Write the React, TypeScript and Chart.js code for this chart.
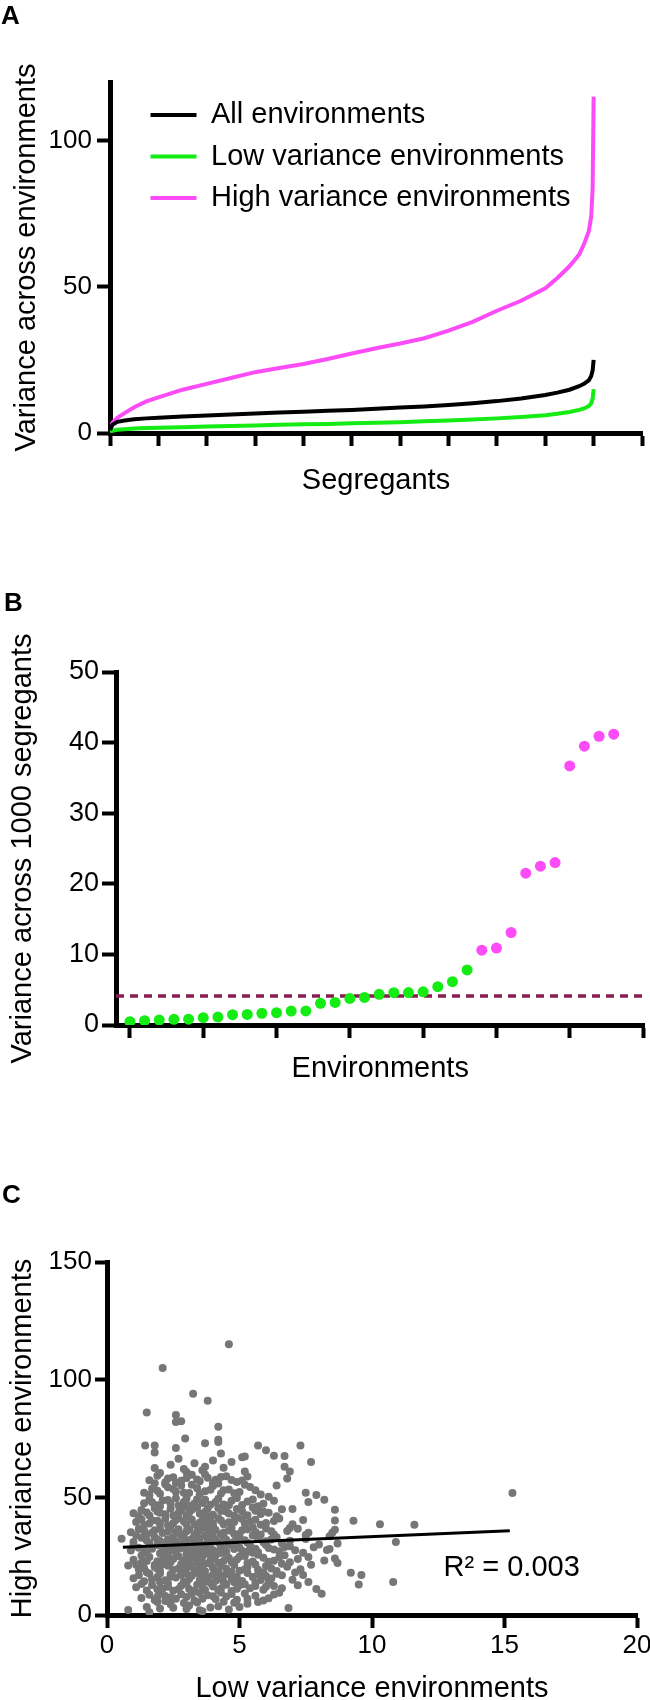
import React, { useEffect, useRef } from 'react';
import { Chart, registerables } from 'chart.js';

Chart.register(...registerables);

const FONT = '"Liberation Sans", Arial, Helvetica, sans-serif';
Chart.defaults.font.family = FONT;
Chart.defaults.color = '#000';

const GREEN = '#14ec14';
const PINK = '#fb4cf7';
const GREY = '#767676';
const MAROON = '#8a1d50';

// ---------- Panel A: variance per segregant (sorted) ----------
const segregantRank = [0, 5, 15, 30, 50, 75, 100, 150, 200, 250, 300, 350, 400, 450, 500, 550, 600, 650, 700, 750, 800, 850, 900, 925, 950, 970, 980, 990, 995, 998, 1000];
const allEnvVariance = [1.0, 2.8, 3.8, 4.3, 4.7, 5.0, 5.2, 5.6, 6.0, 6.3, 6.7, 7.0, 7.3, 7.6, 7.9, 8.3, 8.7, 9.1, 9.6, 10.2, 10.9, 11.8, 13.0, 13.8, 14.8, 16.0, 16.8, 18.0, 19.5, 21.5, 25.0];
const lowEnvVariance = [0.3, 0.8, 1.1, 1.3, 1.5, 1.7, 1.8, 2.0, 2.2, 2.4, 2.6, 2.8, 3.0, 3.1, 3.3, 3.5, 3.7, 4.0, 4.3, 4.6, 5.0, 5.5, 6.1, 6.6, 7.2, 7.9, 8.4, 9.2, 10.2, 11.8, 15.0];
const highEnvVariance = [1.5, 3.5, 5.2, 6.8, 8.8, 10.8, 12.2, 14.8, 16.8, 18.8, 20.8, 22.2, 23.6, 25.3, 27.2, 29.0, 30.6, 32.4, 35.0, 38.0, 41.8, 45.2, 49.5, 53.0, 57.0, 61.0, 64.5, 69.0, 74.0, 84.0, 115.0];
const segregantTicks = [0, 100, 200, 300, 400, 500, 600, 700, 800, 900, 1000, 1100];
const panelAYTicks = [0, 50, 100];

// ---------- Panel B: variance across segregants per environment ----------
const lowVarianceEnvs = [0.47, 0.61, 0.7, 0.8, 0.82, 1.04, 1.13, 1.46, 1.5, 1.65, 1.75, 1.98, 2.0, 3.07, 3.2, 3.77, 3.9, 4.35, 4.58, 4.6, 4.7, 5.43, 6.14, 7.8];
const highVarianceEnvs = [10.6, 10.9, 13.1, 21.5, 22.5, 23.0, 36.7, 39.5, 40.9, 41.2];
const varianceThreshold = 4.1;
const environmentTicks = [0, 5, 10, 15, 20, 25, 30, 35];
const panelBYTicks = [0, 10, 20, 30, 40, 50];

// ---------- Panel C: low vs high variance per segregant ----------
const scatterPoints: [number, number][] = [
  [0.8, 2.1], [1.6, 1.2], [3.5, 2.0], [3.6, 1.6], [4.6, 2.3], [6.85, 3.0], [2.4, 4.6], [3.1, 4.0], [4.2, 3.7], [5.3, 4.8], [2.9, 5.1], [1.9, 5.5], [5.7, 5.5],
  [1.3, 7.2], [1.8, 6.4], [2.2, 8.1], [2.6, 6.9], [3.0, 7.7], [3.3, 6.2], [3.8, 8.4], [4.1, 6.8], [4.5, 7.9], [4.9, 6.5], [5.6, 8.2], [6.1, 7.1], [2.0, 9.0], [3.5, 9.3], [4.3, 9.6], [5.2, 9.1], [8.1, 9.0], [6.5, 9.5],
  [1.1, 11.8], [1.5, 10.4], [1.7, 12.7], [2.1, 11.2], [2.5, 10.3], [2.8, 12.4], [3.1, 11.0], [3.4, 12.9], [3.7, 10.6], [4.0, 12.1], [4.3, 11.3], [4.7, 10.2], [5.0, 12.6], [5.4, 11.4], [5.9, 10.7], [6.3, 12.3], [7.9, 11.0], [9.5, 13.0], [2.3, 13.4], [3.9, 13.6], [4.8, 13.9], [6.0, 12.0],
  [1.0, 15.6], [1.4, 14.3], [1.9, 16.2], [2.2, 14.8], [2.6, 15.9], [2.9, 14.1], [3.2, 16.7], [3.5, 14.9], [3.8, 16.0], [4.1, 14.6], [4.4, 16.8], [4.7, 15.2], [5.1, 14.4], [5.5, 16.1], [5.8, 14.9], [6.2, 15.5], [6.6, 16.9], [7.0, 15.0], [7.6, 14.0], [10.8, 14.0], [9.6, 17.0], [2.4, 17.3], [3.0, 17.6], [3.6, 17.2], [4.2, 17.9], [1.6, 17.5], [7.4, 17.0],
  [0.8, 21.0], [1.2, 19.3], [1.5, 18.2], [1.8, 20.4], [2.0, 18.9], [2.3, 20.9], [2.5, 19.1], [2.8, 18.3], [3.0, 20.2], [3.3, 19.0], [3.5, 21.1], [3.7, 18.6], [4.0, 20.0], [4.2, 18.4], [4.5, 19.7], [4.8, 21.2], [5.0, 18.8], [5.3, 20.3], [5.7, 19.2], [6.0, 20.8], [6.4, 18.7], [6.8, 20.5], [7.3, 19.4], [9.2, 18.0], [2.1, 21.6], [3.9, 21.8], [5.6, 21.5], [7.7, 21.3], [6.6, 21.8],
  [1.0, 23.5], [1.3, 22.2], [1.6, 24.6], [1.9, 22.8], [2.2, 24.1], [2.4, 22.4], [2.7, 25.0], [2.9, 23.2], [3.2, 24.4], [3.4, 22.6], [3.6, 24.9], [3.9, 23.0], [4.1, 25.3], [4.4, 22.9], [4.6, 24.2], [4.9, 23.6], [5.2, 25.1], [5.5, 22.7], [5.9, 24.3], [6.3, 23.1], [6.7, 25.4], [7.2, 23.8], [7.6, 24.6], [8.2, 23.2], [8.6, 24.0], [8.7, 22.1], [3.0, 25.8], [3.8, 26.0], [2.0, 26.2],
  [0.9, 27.4], [1.2, 28.6], [1.5, 26.5], [1.7, 28.1], [2.1, 27.2], [2.3, 29.0], [2.6, 26.8], [2.8, 28.4], [3.1, 27.0], [3.3, 29.3], [3.5, 26.6], [3.7, 28.2], [4.0, 27.5], [4.3, 29.1], [4.5, 26.9], [4.8, 28.0], [5.1, 27.3], [5.4, 29.4], [5.7, 26.7], [6.1, 28.5], [6.5, 27.1], [6.9, 29.2], [7.4, 26.4], [7.8, 28.8], [8.3, 27.6], [2.5, 30.0], [4.6, 30.2], [7.1, 27.5], [8.4, 28.0],
  [0.55, 32.4], [1.0, 31.0], [1.3, 32.8], [1.6, 30.6], [1.8, 33.0], [2.0, 31.4], [2.3, 32.2], [2.6, 30.9], [2.8, 33.3], [3.0, 31.8], [3.3, 30.5], [3.5, 32.6], [3.8, 31.2], [4.0, 33.4], [4.2, 30.8], [4.5, 32.0], [4.8, 31.1], [5.0, 33.1], [5.3, 30.7], [5.7, 32.5], [6.0, 31.3], [6.4, 33.0], [6.9, 31.6], [7.5, 32.3], [8.4, 33.5], [10.9, 31.0], [8.7, 30.4], [8.0, 30.0],
  [0.9, 35.2], [1.2, 36.5], [1.5, 34.3], [1.8, 36.0], [2.1, 34.8], [2.4, 36.9], [2.6, 35.0], [2.9, 34.1], [3.1, 36.3], [3.4, 35.4], [3.6, 37.2], [3.9, 34.6], [4.1, 36.1], [4.4, 35.1], [4.7, 37.0], [5.0, 34.5], [5.3, 36.4], [5.6, 35.3], [6.0, 36.8], [6.3, 34.2], [6.8, 35.7], [7.2, 36.6], [7.6, 34.9], [8.5, 35.0], [8.6, 36.2], [7.5, 34.0], [6.9, 37.0],
  [1.1, 39.5], [1.4, 38.2], [1.7, 40.3], [2.0, 38.8], [2.2, 40.9], [2.5, 39.0], [2.7, 41.2], [3.0, 38.5], [3.2, 40.6], [3.5, 39.3], [3.7, 41.0], [4.0, 38.7], [4.3, 40.2], [4.6, 39.4], [4.9, 41.3], [5.2, 38.9], [5.6, 40.5], [6.0, 39.1], [6.5, 41.0], [7.0, 38.6], [7.4, 40.4], [9.3, 40.0], [10.3, 38.6], [11.6, 38.4], [8.6, 40.2], [3.8, 37.8],
  [1.0, 43.2], [1.3, 44.6], [1.6, 42.3], [1.9, 44.0], [2.2, 42.8], [2.4, 45.1], [2.7, 43.4], [3.0, 42.1], [3.2, 44.7], [3.5, 43.0], [3.8, 45.3], [4.0, 42.6], [4.3, 44.2], [4.6, 43.1], [4.9, 45.0], [5.3, 42.4], [5.6, 44.3], [6.1, 43.5], [6.6, 44.9], [7.0, 45.0], [8.6, 44.7], [2.9, 46.0], [5.9, 44.0], [6.4, 42.0],
  [1.4, 47.5], [1.6, 49.0], [1.9, 46.6], [2.1, 48.7], [2.4, 47.2], [2.6, 49.6], [2.9, 48.0], [3.1, 46.4], [3.4, 49.2], [3.6, 47.6], [3.9, 46.8], [4.2, 49.4], [4.4, 47.0], [4.7, 48.5], [5.1, 46.7], [5.5, 49.1], [5.9, 47.3], [6.1, 50.2], [7.6, 48.0], [8.2, 49.0], [7.5, 52.0], [7.9, 51.0],
  [1.4, 52.0], [1.7, 53.6], [2.0, 51.5], [2.3, 54.3], [2.6, 52.4], [2.8, 55.0], [3.1, 51.8], [3.4, 53.9], [3.7, 52.6], [4.0, 54.8], [4.3, 51.6], [4.6, 53.3], [5.0, 52.3], [5.4, 54.4], [5.8, 51.2], [6.4, 55.0], [15.3, 51.8],
  [1.6, 57.3], [1.9, 59.2], [2.2, 56.4], [2.5, 58.5], [2.8, 57.0], [3.2, 59.6], [3.5, 56.8], [3.8, 58.3], [4.1, 57.5], [4.5, 59.0], [4.9, 56.5], [5.3, 58.8], [6.8, 58.0], [2.0, 60.3], [3.0, 60.8], [3.6, 61.5],
  [1.8, 62.5], [2.4, 63.8], [2.9, 62.0], [3.3, 64.5], [3.7, 63.0], [4.0, 65.6], [4.4, 62.6], [5.2, 61.0], [6.9, 61.0], [6.7, 63.0], [4.7, 65.0], [7.7, 65.0], [5.1, 67.0], [5.2, 67.3], [6.3, 67.7], [6.7, 67.6], [4.3, 68.6], [2.7, 66.4],
  [1.8, 69.0], [6.0, 70.0], [2.6, 71.0], [1.44, 72.0], [1.8, 72.0], [5.7, 72.0], [7.3, 72.0], [3.7, 73.0], [4.2, 73.5], [4.2, 74.5], [2.95, 75.0], [4.2, 80.0], [2.6, 82.0], [2.8, 82.3], [2.6, 85.0], [1.5, 86.0], [3.8, 91.0], [3.25, 94.0], [2.1, 105.0], [4.6, 115.0],
  // dense core
  [1.5, 3.4], [2.0, 2.8], [2.5, 3.1], [3.0, 2.6], [3.9, 3.2], [4.4, 5.6], [5.0, 3.4], [1.6, 8.6], [2.4, 7.4], [2.8, 8.8], [3.2, 8.9], [3.6, 6.9], [4.0, 8.0], [4.7, 8.9], [5.3, 6.9], [5.9, 6.2], [6.3, 8.7], [1.9, 7.8], [3.4, 5.3], [2.2, 5.9], [4.8, 5.2],
  [1.3, 13.2], [1.9, 10.9], [2.3, 12.0], [2.7, 11.1], [3.0, 13.3], [3.3, 10.2], [3.6, 12.0], [4.2, 10.5], [4.5, 12.9], [4.9, 11.2], [5.2, 13.1], [5.6, 12.3], [6.6, 11.4], [7.2, 12.6], [2.0, 14.0], [3.7, 14.2], [4.4, 13.9], [5.6, 13.7], [6.1, 13.9],
  [1.2, 16.9], [1.7, 15.1], [2.0, 17.6], [2.4, 16.3], [2.8, 17.0], [3.1, 15.3], [3.4, 17.9], [3.7, 15.6], [4.0, 17.1], [4.3, 15.4], [4.6, 17.4], [4.9, 16.2], [5.3, 17.8], [5.7, 17.3], [6.0, 16.6], [6.4, 17.5], [7.1, 18.1], [1.4, 19.9], [1.9, 19.6], [2.7, 19.9], [3.2, 20.7], [3.6, 19.6], [4.3, 20.9], [4.7, 18.3], [5.2, 19.4], [5.9, 18.1], [6.2, 19.8],
  [1.1, 21.4], [1.5, 22.9], [1.8, 21.2], [2.1, 23.4], [2.5, 23.8], [2.8, 21.7], [3.1, 23.0], [3.3, 25.4], [3.5, 23.7], [3.7, 21.9], [4.0, 24.1], [4.2, 22.2], [4.5, 25.9], [4.7, 22.5], [5.0, 24.8], [5.3, 22.1], [5.7, 25.6], [6.1, 22.6], [6.5, 24.5], [6.9, 22.4], [1.3, 25.3], [2.3, 25.7], [4.3, 26.3], [5.5, 26.4],
  [1.0, 29.3], [1.4, 27.8], [1.9, 29.7], [2.2, 28.1], [2.5, 27.5], [2.7, 29.8], [3.0, 28.6], [3.2, 27.9], [3.4, 28.0], [3.6, 29.9], [3.9, 28.9], [4.1, 27.0], [4.4, 28.3], [4.7, 29.6], [5.0, 28.7], [5.3, 26.9], [5.6, 28.2], [6.0, 29.7], [6.3, 27.8], [6.7, 28.9],
  [1.5, 31.7], [1.9, 32.1], [2.2, 30.4], [2.5, 32.9], [2.9, 31.0], [3.2, 32.3], [3.4, 31.5], [3.7, 33.6], [3.9, 32.0], [4.1, 31.9], [4.4, 33.2], [4.7, 30.6], [4.9, 32.4], [5.2, 31.8], [5.5, 33.8], [5.9, 30.9], [6.2, 32.1], [6.6, 30.5],
  [1.1, 33.9], [1.4, 35.8], [1.7, 34.9], [2.0, 36.6], [2.3, 35.5], [2.7, 36.4], [3.0, 35.6], [3.3, 34.0], [3.5, 36.0], [3.8, 35.2], [4.0, 37.4], [4.3, 34.3], [4.6, 35.9], [4.8, 34.4], [5.1, 36.0], [5.5, 37.3], [5.8, 34.2], [6.2, 35.6],
  [1.3, 40.7], [1.6, 38.9], [1.9, 40.0], [2.3, 38.1], [2.6, 40.4], [2.9, 39.7], [3.3, 38.3], [3.6, 40.0], [3.9, 39.8], [4.2, 41.1], [4.4, 38.6], [4.8, 39.5], [5.1, 40.8], [5.4, 39.7], [5.8, 38.3], [6.3, 39.9],
  [1.2, 42.0], [1.5, 43.6], [1.8, 45.4], [2.0, 43.5], [2.5, 42.3], [2.8, 44.4], [3.1, 43.6], [3.4, 45.6], [3.7, 43.9], [3.9, 42.0], [4.2, 45.5], [4.5, 44.0], [4.8, 42.2], [5.1, 44.1], [5.5, 45.7], [5.8, 42.9],
  [1.7, 47.9], [2.0, 46.2], [2.3, 48.9], [2.7, 46.5], [3.0, 49.5], [3.3, 47.4], [3.7, 49.0], [4.1, 48.0], [4.6, 46.6], [4.9, 49.7], [5.3, 48.2], [5.7, 46.2], [6.3, 48.5],
  [1.6, 51.0], [1.9, 52.8], [2.2, 55.6], [2.5, 53.5], [2.9, 52.0], [3.2, 55.3], [3.5, 51.4], [3.9, 53.2], [4.2, 55.9], [4.4, 53.0], [4.8, 51.7], [5.2, 55.4], [5.6, 53.0],
  [1.8, 56.0], [2.3, 58.0], [2.6, 56.2], [3.0, 58.2], [3.4, 57.6], [3.7, 59.7], [4.0, 56.1], [4.3, 58.6], [4.7, 57.4], [5.1, 57.2],
];
const fitLow = [0.6, 15.2];
const fitHigh = [28.8, 35.8];
const rSquaredLabel = 'R² = 0.003';
const rSquaredAt = [12.7, 16.6];
const panelCXTicks = [0, 5, 10, 15, 20];
const panelCYTicks = [0, 50, 100, 150];

const toTicks = (vals: number[]) => (s: any) => { s.ticks = vals.map((v) => ({ value: v })); };

const axisLine = { color: '#000', width: 5 };
const tickGrid = { drawOnChartArea: false, tickLength: 13, tickWidth: 4, tickColor: '#000' };

function usePanel(ref: React.RefObject<HTMLCanvasElement>, make: (c: HTMLCanvasElement) => Chart) {
  useEffect(() => {
    if (!ref.current) return;
    const chart = make(ref.current);
    return () => chart.destroy();
  }, []);
}

export default function App() {
  const aRef = useRef<HTMLCanvasElement>(null);
  const bRef = useRef<HTMLCanvasElement>(null);
  const cRef = useRef<HTMLCanvasElement>(null);

  usePanel(aRef, (c) => new Chart(c, {
    type: 'line',
    data: {
      datasets: [
        { label: 'All environments', data: segregantRank.map((x, i) => ({ x, y: allEnvVariance[i] })), borderColor: '#000', backgroundColor: '#000', borderWidth: 4, pointRadius: 0, tension: 0 },
        { label: 'Low variance environments', data: segregantRank.map((x, i) => ({ x, y: lowEnvVariance[i] })), borderColor: GREEN, backgroundColor: GREEN, borderWidth: 4, pointRadius: 0, tension: 0 },
        { label: 'High variance environments', data: segregantRank.map((x, i) => ({ x, y: highEnvVariance[i] })), borderColor: PINK, backgroundColor: PINK, borderWidth: 4, pointRadius: 0, tension: 0 },
      ],
    },
    options: {
      responsive: false,
      animation: false,
      layout: { padding: { top: 82, right: 8, bottom: 0, left: 0 } },
      plugins: {
        tooltip: { enabled: false },
        legend: {
          position: 'chartArea',
          align: 'start',
          labels: { usePointStyle: true, pointStyle: 'line', pointStyleWidth: 46, padding: 12.5, font: { size: 29 }, color: '#000' },
        },
      },
      scales: {
        x: {
          type: 'linear', min: 0, max: 1100,
          afterFit: (s: any) => { s.height = 87; },
          afterBuildTicks: toTicks(segregantTicks),
          ticks: { display: false },
          grid: tickGrid, border: axisLine,
          title: { display: true, text: 'Segregants', font: { size: 29 }, color: '#000', padding: { top: 0, bottom: 22 } },
        },
        y: {
          type: 'linear', min: 0, max: 120,
          afterFit: (s: any) => { s.width = 110; },
          afterBuildTicks: toTicks(panelAYTicks),
          ticks: { font: { size: 26 }, color: '#000', padding: 5 },
          grid: tickGrid, border: axisLine,
          title: { display: true, text: 'Variance across environments', font: { size: 29 }, color: '#000', padding: { top: 10, bottom: 0 } },
        },
      },
    },
    plugins: [{
      id: 'legendPlacement',
      afterLayout(chart: any) {
        if (chart.legend) {
          chart.legend.left = chart.chartArea.left + 28;
          chart.legend.top = chart.chartArea.top + 6;
        }
      },
    }],
  } as any));

  usePanel(bRef, (c) => new Chart(c, {
    type: 'scatter',
    data: {
      datasets: [
        { label: 'Low variance', data: lowVarianceEnvs.map((y, i) => ({ x: i, y })), backgroundColor: GREEN, borderWidth: 0, pointRadius: 5.5, order: 0 },
        { label: 'High variance', data: highVarianceEnvs.map((y, i) => ({ x: lowVarianceEnvs.length + i, y })), backgroundColor: PINK, borderWidth: 0, pointRadius: 5.5, order: 0 },
        { type: 'line', label: 'Threshold', data: [{ x: -0.95, y: varianceThreshold }, { x: 35.1, y: varianceThreshold }], borderColor: MAROON, borderWidth: 3.5, borderDash: [8, 6], pointRadius: 0, order: 1 },
      ],
    },
    options: {
      responsive: false,
      animation: false,
      layout: { padding: { top: 112, right: 0, bottom: 0, left: 0 } },
      plugins: { legend: { display: false }, tooltip: { enabled: false } },
      scales: {
        x: {
          type: 'linear', min: -0.95, max: 35.1,
          afterFit: (s: any) => { s.height = 95; },
          afterBuildTicks: toTicks(environmentTicks),
          ticks: { display: false },
          grid: tickGrid, border: axisLine,
          title: { display: true, text: 'Environments', font: { size: 29 }, color: '#000', padding: { top: 0, bottom: 34 } },
        },
        y: {
          type: 'linear', min: 0, max: 50,
          afterFit: (s: any) => { s.width = 116; },
          afterBuildTicks: toTicks(panelBYTicks),
          ticks: { font: { size: 27 }, color: '#000', padding: 3 },
          grid: { ...tickGrid, tickLength: 14 }, border: axisLine,
          title: { display: true, text: 'Variance across 1000 segregants', font: { size: 29 }, color: '#000', padding: { top: 6, bottom: 0 } },
        },
      },
    },
  } as any));

  usePanel(cRef, (c) => new Chart(c, {
    type: 'scatter',
    data: {
      datasets: [
        { label: 'Segregants', data: scatterPoints.map(([x, y]) => ({ x, y })), backgroundColor: GREY, borderWidth: 0, pointRadius: 4, order: 1 },
        { type: 'line', label: 'Linear fit', data: fitLow.map((x, i) => ({ x, y: fitHigh[i] })), borderColor: '#000', borderWidth: 3, pointRadius: 0, order: 0 },
      ],
    },
    options: {
      responsive: false,
      animation: false,
      layout: { padding: { top: 142, right: 63, bottom: 0, left: 0 } },
      plugins: { legend: { display: false }, tooltip: { enabled: false } },
      scales: {
        x: {
          type: 'linear', min: 0, max: 20,
          afterFit: (s: any) => { s.height = 125; },
          afterBuildTicks: toTicks(panelCXTicks),
          ticks: { font: { size: 26 }, color: '#000', padding: 2, maxRotation: 0 },
          grid: tickGrid, border: axisLine,
          title: { display: true, text: 'Low variance environments', font: { size: 29 }, color: '#000', padding: { top: 0, bottom: 34 } },
        },
        y: {
          type: 'linear', min: 0, max: 150,
          afterFit: (s: any) => { s.width = 107; },
          afterBuildTicks: toTicks(panelCYTicks),
          ticks: { font: { size: 26 }, color: '#000', padding: 3 },
          grid: { ...tickGrid, tickLength: 12 }, border: axisLine,
          title: { display: true, text: 'High variance environments', font: { size: 29 }, color: '#000', padding: { top: 6, bottom: 0 } },
        },
      },
    },
    plugins: [{
      id: 'rSquared',
      afterDatasetsDraw(chart: any) {
        const { ctx, scales } = chart;
        ctx.save();
        ctx.font = `29px ${FONT}`;
        ctx.fillStyle = '#000';
        ctx.textAlign = 'left';
        ctx.textBaseline = 'alphabetic';
        ctx.fillText(rSquaredLabel, scales.x.getPixelForValue(rSquaredAt[0]), scales.y.getPixelForValue(rSquaredAt[1]));
        ctx.restore();
      },
    }],
  } as any));

  const letter = (top: number, left: number): React.CSSProperties => ({
    position: 'absolute', top, left, fontFamily: FONT, fontWeight: 'bold', fontSize: 26, lineHeight: '26px', color: '#000',
  });

  return (
    <div style={{ position: 'absolute', left: 0, top: 0, width: 650, height: 1700, overflow: 'hidden', background: '#fff' }}>
      <canvas ref={aRef} width={650} height={520} style={{ position: 'absolute', left: 0, top: 0, width: 650, height: 520 }} />
      <canvas ref={bRef} width={650} height={560} style={{ position: 'absolute', left: 0, top: 560, width: 650, height: 560 }} />
      <canvas ref={cRef} width={700} height={620} style={{ position: 'absolute', left: 0, top: 1120, width: 700, height: 620 }} />
      <div style={letter(2, 1)}>A</div>
      <div style={letter(589, 4)}>B</div>
      <div style={letter(1181, 2)}>C</div>
    </div>
  );
}
